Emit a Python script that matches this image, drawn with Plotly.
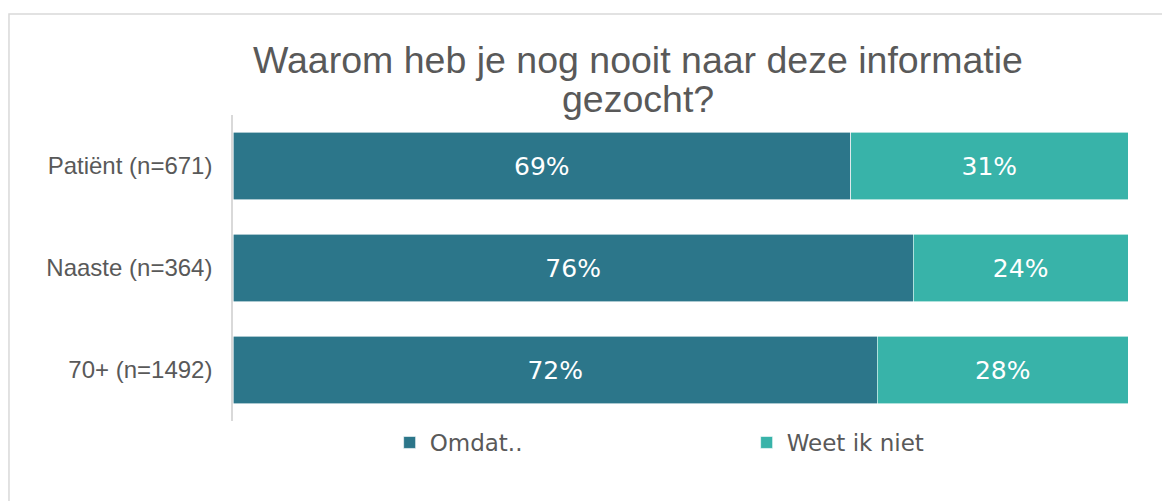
import plotly.graph_objects as go

# data
groups = ["Patiënt (n=671)", "Naaste (n=364)", "70+ (n=1492)"]
omdat = [0.69, 0.76, 0.72]
weet_niet = [0.31, 0.24, 0.28]
series_names = ["Omdat..", "Weet ik niet"]
colors = ["#2C768A", "#38B3A9"]

title_font = dict(family="Liberation Sans, Arial", size=37.5, color="#595959")

fig = go.Figure()
for name, vals, col in zip(series_names, [omdat, weet_niet], colors):
    fig.add_trace(go.Bar(
        y=groups, x=vals, name=name, orientation="h",
        marker=dict(color=col, line=dict(color="white", width=0.6)),
        text=[f"{v:.0%}" for v in vals], textposition="inside",
        insidetextanchor="middle",
        textfont=dict(color="white", size=25, family="DejaVu Sans"),
        hoverinfo="skip",
    ))

# page body adds an 8px offset, so the figure is a bit smaller
fig.update_layout(
    width=1162, height=493,
    barmode="stack", bargap=0.34,
    plot_bgcolor="white", paper_bgcolor="white",
    margin=dict(l=225, r=42, t=107, b=80),
    showlegend=True,
    legend=dict(orientation="h", x=0.175, xanchor="left", y=0.0, yanchor="top",
                font=dict(family="DejaVu Sans", size=23, color="#595959"),
                traceorder="normal", itemwidth=30, entrywidth=312,
                itemclick=False),
    xaxis=dict(range=[0, 1], showgrid=False, showticklabels=False, zeroline=False,
               fixedrange=True),
    yaxis=dict(autorange="reversed", showline=True, linecolor="#d9d9d9", linewidth=1.5,
               ticks="", ticklabelstandoff=14,
               tickfont=dict(family="Liberation Sans, Arial", size=24, color="#595959")),
    shapes=[dict(type="rect", xref="paper", yref="paper",
                 x0=-0.2503, x1=1.2, y0=-0.5, y1=1.330,
                 line=dict(color="#d9d9d9", width=1.5), fillcolor="rgba(0,0,0,0)")],
    annotations=[
        dict(text="Waarom heb je nog nooit naar deze informatie", x=0.452, y=1.181,
             xref="paper", yref="paper", xanchor="center", yanchor="middle",
             showarrow=False, font=title_font),
        dict(text="gezocht?", x=0.452, y=1.053,
             xref="paper", yref="paper", xanchor="center", yanchor="middle",
             showarrow=False, font=title_font),
    ],
)

fig.write_html("out.html")
